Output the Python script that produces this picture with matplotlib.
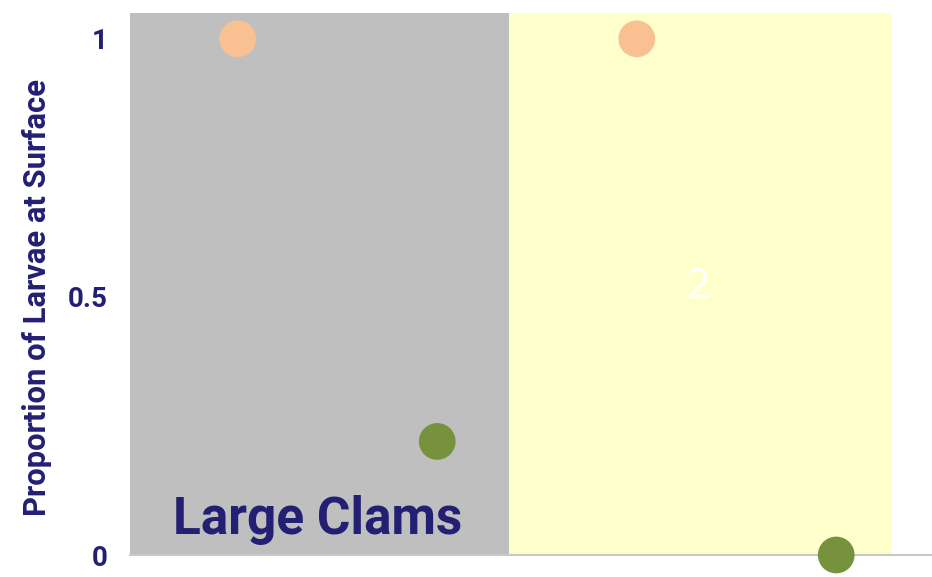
import matplotlib.pyplot as plt

# data
x_pos = [1, 2, 3, 4]
proportion = [1.0, 0.22, 1.0, 0.0]
point_colors = ['#F9C192', '#76923C', '#F9C192', '#76923C']
yticks = [0, 0.5, 1]
ytick_labels = ['0', '0.5', '1']
panels = [(0.46, 2.36, '#BFBFBF'), (2.36, 4.28, '#FFFFCC')]

navy = '#231F73'

fig = plt.figure(figsize=(9.32, 5.77), dpi=100)
ax = fig.add_axes([130 / 932, 1 - 555 / 577, 802 / 932, 542 / 577])

for x0, x1, c in panels:
    ax.axvspan(x0, x1, ymin=0, ymax=1, color=c, lw=0, zorder=0)

ax.scatter(x_pos, proportion, s=700, c=point_colors, zorder=3, clip_on=False, lw=0)

ax.set_xlim(0.46, 4.48)
ax.set_ylim(0, 1.05)

for s in ['top', 'right', 'left']:
    ax.spines[s].set_visible(False)
ax.spines['bottom'].set_color('#C8C8C8')
ax.spines['bottom'].set_linewidth(1.5)
ax.spines['bottom'].set_zorder(1)

ax.set_xticks([])
ax.set_yticks(yticks)
ax.set_yticklabels(ytick_labels, fontsize=20, fontweight='bold', color=navy,
                   family='Roboto')
ax.tick_params(axis='y', length=0, pad=16)

fig.text(37 / 932, 1 - 298 / 577, 'Proportion of Larvae at Surface', fontsize=22.3,
         fontweight='bold', color=navy, family='Roboto', rotation=90,
         ha='center', va='center')

ax.text(1.40, 0.068, 'Large Clams', fontsize=37, fontweight='bold', color=navy,
        family='Roboto', ha='center', va='center')
ax.text(3.31, 0.52, '2', fontsize=30, color='white', family='Open Sans',
        ha='center', va='center')

fig.savefig('out.png', dpi=100)
